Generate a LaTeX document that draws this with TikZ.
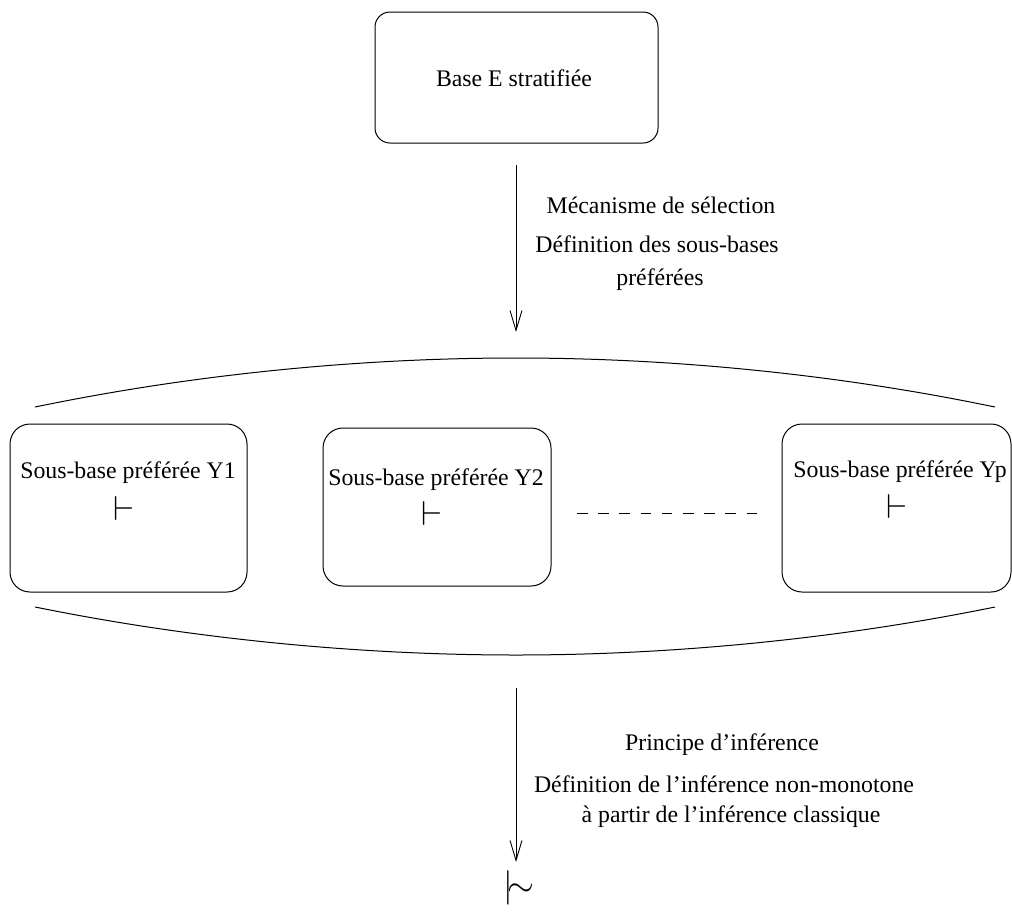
\documentclass[tikz,border=0pt]{standalone}
\usepackage{fontspec}
\setmainfont{Liberation Serif}
\usetikzlibrary{arrows.meta}
\begin{document}
\begin{tikzpicture}[x=0.5pt,y=-0.5pt,
  txt/.style={font=\fontsize{11.9}{14}\selectfont, inner sep=0pt, anchor=center},
  sym/.style={font=\fontsize{16}{18}\selectfont, inner sep=0pt, anchor=center},
  topbox/.style={draw, line width=0.5pt, rounded corners=7.5pt, inner sep=0pt},
  subbox/.style={draw, line width=0.5pt, rounded corners=10pt, inner sep=0pt},
  flow/.style={line width=0.45pt, -{Straight Barb[length=10pt,width=6pt,line width=0.45pt]}},
  curve/.style={line width=0.5pt},
  dots/.style={line width=0.5pt, dash pattern=on 5.3pt off 5.3pt}]
\useasboundingbox (0,0) rectangle (1012,911);

% top box
\node[topbox, minimum width=141.5pt, minimum height=65.5pt] (top) at (516.5,77.5) {};
\node[txt] (toptxt) at (514,78) {Base E stratifiée};

% first arrow and its label
\coordinate (a1s) at (516,165);
\coordinate (a1e) at (516,332);
\draw[flow] (a1s) -- (a1e);
\node[txt] (l1a) at (661,205) {Mécanisme de sélection};
\node[txt] (l1b) at (657,244) {Définition des sous-bases};
\node[txt] (l1c) at (660,280) {préférées};

% arcs
\coordinate (ul) at (35,407);
\coordinate (um) at (516,358);
\coordinate (ur) at (995,407);
\draw[curve] (ul) parabola bend (um) (ur);
\coordinate (ll) at (35,607);
\coordinate (lm) at (516,655);
\coordinate (lr) at (995,607);
\draw[curve] (ll) parabola bend (lm) (lr);

% sub-bases
\node[subbox, minimum width=118.5pt, minimum height=84pt] (b1) at (128.5,508) {};
\node[txt] (t1) at (128,473) {Sous-base préférée Y1};
\node[sym] (v1) at (124,508) {$\vdash$};

\node[subbox, minimum width=114pt, minimum height=79pt] (b2) at (437,507) {};
\node[txt] (t2) at (436,480) {Sous-base préférée Y2};
\node[sym] (v2) at (432,513) {$\vdash$};

\node[subbox, minimum width=114.5pt, minimum height=84pt] (b3) at (896.5,508) {};
\node[txt] (t3) at (900,472) {Sous-base préférée Yp};
\node[sym] (v3) at (897,506) {$\vdash$};

\coordinate (d1) at (577,513);
\coordinate (d2) at (757,513);
\draw[dots] (d1) -- (d2);

% second arrow and its label
\coordinate (a2s) at (516,688);
\coordinate (a2e) at (516,862);
\draw[flow] (a2s) -- (a2e);
\node[txt] (l2a) at (722,745) {Principe d’inférence};
\node[txt] (l2b) at (724,784) {Définition de l’inférence non-monotone};
\node[txt] (l2c) at (731,817) {à partir de l’inférence classique};

\node[sym] (nm) at (519,888) {$\mid\!\sim$};
\end{tikzpicture}
\end{document}
